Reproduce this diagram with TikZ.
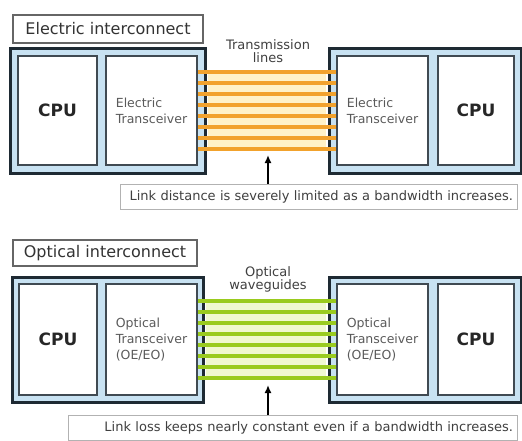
\documentclass[tikz,border=0pt]{standalone}
\usepackage{fontspec}
\setmainfont{DejaVu Sans}
\usetikzlibrary{arrows.meta}

\definecolor{boxblue}{HTML}{C8E2F2}
\definecolor{boxline}{HTML}{1E2A33}
\definecolor{wireorange}{HTML}{F2A22C}
\definecolor{paleorange}{HTML}{FFF2C8}
\definecolor{wiregreen}{HTML}{9ACB1E}
\definecolor{palegreen}{HTML}{F0F8D0}
\definecolor{labelgray}{HTML}{5A5A5A}

\tikzset{
	outerbox/.style = {draw=boxline, line width=3pt, fill=boxblue, minimum height=125pt, inner sep=0pt},
	unitbox/.style = {draw=boxline!85, line width=2pt, fill=white, minimum height=109pt, inner sep=0pt},
	cpulabel/.style = {font=\fontsize{17}{20}\selectfont\bfseries, text=black!85},
	trxlabel/.style = {align=left, font=\fontsize{12.5}{16}\selectfont, text=labelgray},
	titlebox/.style = {draw=black!60, line width=1.2pt, fill=white, font=\fontsize{16}{18}\selectfont, text=black!80, inner sep=0pt},
	notebox/.style = {draw=black!30, line width=1pt, fill=white, font=\fontsize{13}{15}\selectfont, text=black!75, inner xsep=4pt, inner ysep=0pt, minimum height=25pt, align=right},
	wirelabel/.style = {align=center, font=\fontsize{13}{13}\selectfont, text=black!75},
	ewire/.style = {wireorange, line width=4.5pt},
	owire/.style = {wiregreen, line width=4.5pt},
	pointer/.style = {line width=2pt, -{Latex[length=8pt,width=7pt]}},
}

\begin{document}
\begin{tikzpicture}[x=1pt, y=-1pt]
	\useasboundingbox[fill=white] (0,0) rectangle (522,440);

	% electric link
	\node[titlebox, minimum width=190pt, minimum height=28pt] (etitle) at (108,29) {Electric interconnect};
	\node[outerbox, minimum width=195pt] (eoutL) at (107.5,110.5) {};
	\node[outerbox, minimum width=192pt] (eoutR) at (425,110.5) {};
	\node[unitbox, minimum width=79pt] (ecpuL) at (57.5,110.5) {};
	\node[cpulabel] at (ecpuL) {CPU};
	\node[unitbox, minimum width=91pt] (etrxL) at (151.5,110.5) {};
	\node[trxlabel] at (etrxL) {Electric\\Transceiver};
	\node[unitbox, minimum width=91pt] (etrxR) at (382.5,110.5) {};
	\node[trxlabel] at (etrxR) {Electric\\Transceiver};
	\node[unitbox, minimum width=76pt] (ecpuR) at (476,110.5) {};
	\node[cpulabel] at (ecpuR) {CPU};

	\fill[paleorange] ([xshift=1.5pt, yshift=38.5pt]eoutL.east) rectangle ([xshift=-1.5pt, yshift=-38.5pt]eoutR.west);
	\foreach \k in {0,...,7}
		\draw[ewire] ([yshift=(\k-3.5)*11pt]etrxL.east) -- ([yshift=(\k-3.5)*11pt]etrxR.west);
	\node[wirelabel] (elabel) at (268,51) {Transmission\\lines};

	\node[notebox, text width=389pt] (enote) at (318.5,196.5) {Link distance is severely limited as a bandwidth increases.};
	\coordinate (etip) at (268,155);
	\draw[pointer] (enote.north -| etip) -- (etip);

	% optical link
	\node[titlebox, minimum width=184pt, minimum height=26pt] (otitle) at (105,253) {Optical interconnect};
	\node[outerbox, minimum width=191pt] (ooutL) at (107.5,340) {};
	\node[outerbox, minimum width=192pt] (ooutR) at (425,340) {};
	\node[unitbox, minimum width=78pt, minimum height=111pt] (ocpuL) at (58,339.5) {};
	\node[cpulabel] at (ocpuL) {CPU};
	\node[unitbox, minimum width=91pt, minimum height=111pt] (otrxL) at (151.5,339.5) {};
	\node[trxlabel] at (otrxL) {Optical\\Transceiver\\(OE/EO)};
	\node[unitbox, minimum width=91pt, minimum height=111pt] (otrxR) at (382.5,339.5) {};
	\node[trxlabel] at (otrxR) {Optical\\Transceiver\\(OE/EO)};
	\node[unitbox, minimum width=76pt, minimum height=111pt] (ocpuR) at (476,339.5) {};
	\node[cpulabel] at (ocpuR) {CPU};

	\fill[palegreen] ([xshift=1.5pt, yshift=38.5pt]ooutL.east) rectangle ([xshift=-1.5pt, yshift=-38.5pt]ooutR.west);
	\foreach \k in {0,...,7}
		\draw[owire] ([yshift=(\k-3.5)*11pt]otrxL.east) -- ([yshift=(\k-3.5)*11pt]otrxR.west);
	\node[wirelabel] (olabel) at (268,279) {Optical\\waveguides};

	\node[notebox, text width=441pt] (onote) at (292.5,428) {Link loss keeps nearly constant even if a bandwidth increases.};
	\coordinate (otip) at (268,385);
	\draw[pointer] (onote.north -| otip) -- (otip);
\end{tikzpicture}
\end{document}
